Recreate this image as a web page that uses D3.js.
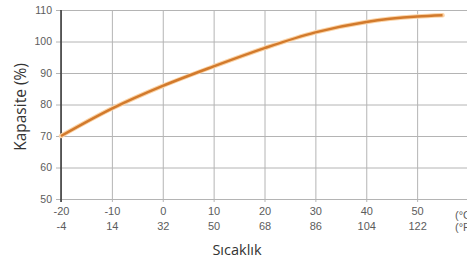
<!DOCTYPE html>
<html>
<head>
<meta charset="utf-8">
<script src="https://cdn.jsdelivr.net/npm/d3@7"></script>
<style>
  body { margin: 0; background: #fff; }
  #chart { width: 467px; height: 264px; }
  .tick text { font-family: "Liberation Sans", Arial, sans-serif; }
</style>
</head>
<body>
<div id="chart"></div>
<script>
// temperature in °C, capacity in %
const tempC = [-20, -10, 0, 10, 20, 30, 40, 50, 55];
const capacity = [70, 78.7, 85.9, 92.1, 97.9, 102.9, 106.2, 107.9, 108.3];

const xTicksC = [-20, -10, 0, 10, 20, 30, 40, 50];
const xTicksF = [-4, 14, 32, 50, 68, 86, 104, 122];
const yTicks = [50, 60, 70, 80, 90, 100, 110];

const width = 467;
const height = 264;
const margin = { left: 61, top: 10, right: -1, bottom: 65 };

const svg = d3.select("#chart")
  .append("svg")
  .attr("width", width)
  .attr("height", height);

const x = d3.scaleLinear()
  .domain([-20, 60])
  .range([margin.left, width - margin.right]);

const y = d3.scaleLinear()
  .domain([50, 110])
  .range([height - margin.bottom, margin.top]);

// horizontal grid + y ticks
const yAxis = svg.append("g")
  .attr("transform", `translate(${margin.left},0)`)
  .call(d3.axisLeft(y)
    .tickValues(yTicks)
    .tickFormat(d => String(d))
    .tickSize(-(width - margin.left))
    .tickPadding(9));
yAxis.select(".domain").remove();
yAxis.selectAll(".tick line")
  .attr("x1", -5)
  .attr("stroke", "#b4b4b4");
yAxis.selectAll(".tick text")
  .attr("fill", "#5c5c5c")
  .style("font-size", "10.5px");

// vertical grid + x ticks (°C)
const xAxis = svg.append("g")
  .attr("transform", `translate(0,${height - margin.bottom})`)
  .call(d3.axisBottom(x)
    .tickValues(xTicksC)
    .tickFormat(d => String(d))
    .tickSize(-(height - margin.bottom - margin.top))
    .tickPadding(8));
xAxis.select(".domain").remove();
xAxis.selectAll(".tick line")
  .attr("y1", 3)
  .attr("stroke", "#b4b4b4");
xAxis.selectAll(".tick text")
  .attr("fill", "#5c5c5c")
  .style("font-size", "11px");

// second row (°F)
xAxis.selectAll(".tick")
  .append("text")
  .attr("y", 31)
  .attr("fill", "#5c5c5c")
  .attr("text-anchor", "middle")
  .style("font-size", "11px")
  .text((d, i) => xTicksF[i]);

// unit labels at the right, cut by the edge
svg.append("text")
  .attr("x", 455)
  .attr("y", 219)
  .attr("fill", "#5c5c5c")
  .style("font-family", "Liberation Sans, Arial, sans-serif")
  .style("font-size", "11px")
  .text("(°C)");
svg.append("text")
  .attr("x", 455)
  .attr("y", 231)
  .attr("fill", "#5c5c5c")
  .style("font-family", "Liberation Sans, Arial, sans-serif")
  .style("font-size", "11px")
  .text("(°F)");

// left axis line
svg.append("line")
  .attr("x1", margin.left)
  .attr("x2", margin.left)
  .attr("y1", margin.top)
  .attr("y2", height - margin.bottom + 3)
  .attr("stroke", "#333")
  .attr("stroke-width", 1.5);

// curve
const line = d3.line()
  .x((d, i) => x(tempC[i]))
  .y(d => y(d))
  .curve(d3.curveMonotoneX);

svg.append("path")
  .datum(capacity)
  .attr("d", line)
  .attr("fill", "none")
  .attr("stroke", "#fbd3a6")
  .attr("stroke-width", 4.5)
  .attr("stroke-linecap", "round");
svg.append("path")
  .datum(capacity)
  .attr("d", line)
  .attr("fill", "none")
  .attr("stroke", "#d27a2c")
  .attr("stroke-width", 2.5);

// axis titles
svg.append("text")
  .attr("x", 237)
  .attr("y", 255)
  .attr("text-anchor", "middle")
  .attr("fill", "#333")
  .style("font-family", "Open Sans, sans-serif")
  .style("font-size", "14.5px")
  .text("Sıcaklık");

svg.append("text")
  .attr("transform", "translate(26,107) rotate(-90)")
  .attr("text-anchor", "middle")
  .attr("fill", "#333")
  .style("font-family", "Open Sans, sans-serif")
  .style("font-size", "15.5px")
  .text("Kapasite (%)");
</script>
</body>
</html>
